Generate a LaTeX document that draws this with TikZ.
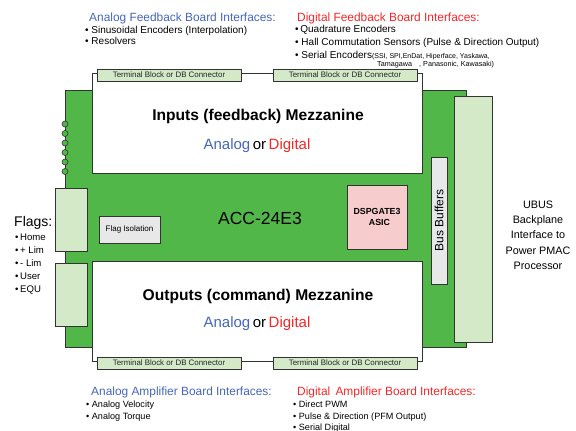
\documentclass[tikz,border=0pt]{standalone}
\usepackage{fontspec}
\setmainfont{Liberation Sans}
\usetikzlibrary{shadows}
\definecolor{boardgreen}{HTML}{50B748}
\definecolor{lightgreen}{HTML}{D3E9C8}
\definecolor{ablue}{HTML}{4466BB}
\definecolor{dred}{HTML}{F02828}
\definecolor{isogray}{HTML}{E8E8E8}
\definecolor{asicpink}{HTML}{F6CCCC}
\definecolor{edge}{HTML}{333333}
\tikzset{
  px/.style={x=1pt,y=-1pt},
  shad/.style={drop shadow={shadow xshift=1.2pt,shadow yshift=-1.2pt,fill=black!45,opacity=1}},
  conn/.style={draw=edge,fill=lightgreen,line width=0.8pt,shad},
  mezz/.style={draw=edge,fill=white,line width=0.8pt,shad},
  tb/.style={conn,font=\fontsize{7.9}{8}\selectfont,inner sep=0pt,text=black!85},
  title/.style={anchor=base west,font=\fontsize{11.9}{13}\selectfont,inner sep=0pt},
  item/.style={anchor=base west,font=\fontsize{10}{11}\selectfont,inner sep=0pt},
  bitem/.style={anchor=base west,font=\fontsize{9.1}{10}\selectfont,inner sep=0pt},
  pin/.style={draw=edge,fill=boardgreen,line width=0.6pt,circle,minimum size=6pt,inner sep=0pt},
}
\begin{document}
\begin{tikzpicture}[px]
\useasboundingbox (0,0) rectangle (576,431);
% board
\path[draw=black!80,fill=boardgreen,line width=0.9pt] (65,90) rectangle (466,347);
\coordinate (boardc) at (260,218);
% pins
\foreach \i/\y in {1/124,2/133.5,3/143,4/152.5,5/162,6/171.5} \node[pin] (pin\i) at (65,\y) {};
% left connectors
\path[conn] (55,188) rectangle (87,251);
\path[conn] (55,263) rectangle (87,326);
% mezzanines
\path[mezz] (92,73) rectangle (422,173);
\path[mezz] (92,261) rectangle (422,361);
% terminal blocks
\node[tb,minimum width=144pt,minimum height=12pt] (tb1) at (169,75) {Terminal Block or DB Connector};
\node[tb,minimum width=144pt,minimum height=12pt] (tb2) at (345,75) {Terminal Block or DB Connector};
\node[tb,minimum width=144pt,minimum height=12pt] (tb3) at (169,363) {Terminal Block or DB Connector};
\node[tb,minimum width=144pt,minimum height=12pt] (tb4) at (345,363) {Terminal Block or DB Connector};
% mezzanine texts
\node[font=\bfseries\fontsize{15.6}{17}\selectfont] (inmz) at (258,116) {Inputs (feedback) Mezzanine};
\node[font=\fontsize{15}{17}\selectfont] (inad) at (257,146) {\textcolor{ablue}{Analog}\,or\,\textcolor{dred}{Digital}};
\node[font=\bfseries\fontsize{15.6}{17}\selectfont] (outmz) at (258,296) {Outputs (command) Mezzanine};
\node[font=\fontsize{15}{17}\selectfont] (outad) at (257,324) {\textcolor{ablue}{Analog}\,or\,\textcolor{dred}{Digital}};
% board label
\node[font=\fontsize{17.5}{19}\selectfont] (acc) at (boardc) {ACC-24E3};
% flag isolation
\node[draw=edge,fill=isogray,line width=0.8pt,minimum width=61pt,minimum height=27pt,font=\fontsize{8}{9}\selectfont,shad] (flagiso) at (129.5,229.5) {Flag Isolation};
% ASIC
\node[draw=edge,fill=asicpink,line width=0.8pt,minimum width=60pt,minimum height=64pt,font=\bfseries\fontsize{8.8}{11}\selectfont,align=center] (asic) at (377,217) {DSPGATE3\\\ \ ASIC};
% bus buffers
\node[draw=edge,fill=isogray,line width=0.8pt,minimum width=127pt,minimum height=16pt,inner sep=0pt,rotate=90,font=\fontsize{12}{12}\selectfont,shad] (bus) at (439,220.5) {\raisebox{-0.3pt}{Bus Buffers}};
% UBUS connector
\path[conn] (454,96) rectangle (492,342);
\node[font=\fontsize{10.8}{15.3}\selectfont,align=center] (ubus) at (538,235) {UBUS\\Backplane\\Interface to\\Power PMAC\\Processor};
% Flags
\node[anchor=base west,inner sep=0pt,font=\fontsize{14}{15}\selectfont] (flags) at (14,226) {Flags:};
\foreach \i/\y/\t in {1/240/Home,2/253/+ Lim,3/266/- Lim,4/279/User,5/292/EQU}
  \node[item,font=\fontsize{9.6}{10}\selectfont] (flag\i) at (15,\y) {•\,\t};
% top texts
\node[title,text=ablue] (aft) at (89,21) {Analog Feedback Board Interfaces:};
\node[item] (af1) at (85,33) {•\ Sinusoidal Encoders (Interpolation)};
\node[item] (af2) at (85,45) {•\ Resolvers};
\node[title,text=dred] (dft) at (297,21) {Digital Feedback Board Interfaces:};
\node[item] (df1) at (295,32.5) {•\,Quadrature Encoders};
\node[item] (df2) at (295,45.5) {•\ Hall Commutation Sensors (Pulse \& Direction Output)};
\node[item] (df3) at (295,58.5) {•\ Serial Encoders{\fontsize{7}{8}\selectfont(SSI, SPI,EnDat, Hiperface, Yaskawa,}};
\node[item,font=\fontsize{7.2}{8}\selectfont] (df4) at (377,66) {Tamagawa\quad, Panasonic, Kawasaki)};
% bottom texts
\node[title,text=ablue] (aat) at (91,395) {Analog Amplifier Board Interfaces:};
\node[bitem] (aa1) at (86,407.5) {•\ Analog Velocity};
\node[bitem] (aa2) at (86,419.5) {•\ Analog Torque};
\node[title,text=dred] (dat) at (297,395) {Digital\, Amplifier Board Interfaces:};
\node[bitem] (da1) at (293,407.5) {•\ Direct PWM};
\node[bitem] (da2) at (293,419.5) {•\ Pulse \& Direction (PFM Output)};
\node[bitem] (da3) at (293,430.5) {•\ Serial Digital};
\end{tikzpicture}
\end{document}
